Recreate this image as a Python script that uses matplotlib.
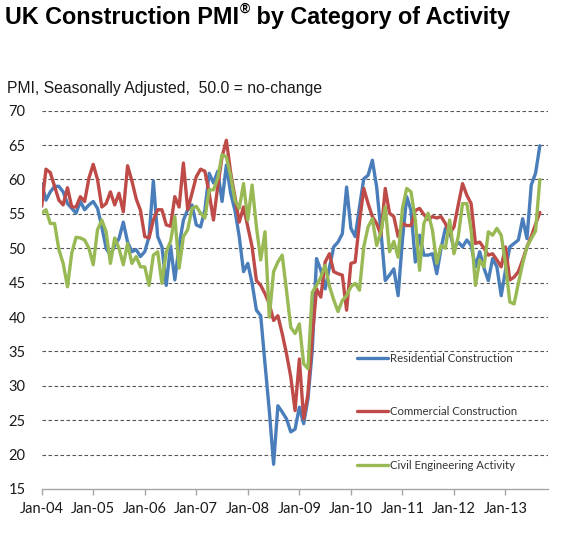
import matplotlib
matplotlib.use("Agg")
import matplotlib.pyplot as plt
import numpy as np

# ---------------- data (monthly, Jan-04 .. Sep-13) ----------------
tick_labels = ["Jan-04", "Jan-05", "Jan-06", "Jan-07", "Jan-08",
               "Jan-09", "Jan-10", "Jan-11", "Jan-12", "Jan-13"]

residential = [59.4, 57.0, 58.2, 59.0, 59.0, 58.2, 56.5, 55.8, 55.1, 56.8,
               55.6, 56.3, 56.8, 55.8, 53.1, 50.0, 49.0, 50.4, 51.4, 53.8,
               50.9, 49.5, 49.8, 48.8, 49.5, 51.7, 59.8, 51.7, 50.2, 44.6,
               50.4, 45.4, 50.4, 54.1, 55.6, 56.3, 53.4, 53.1, 55.6, 60.9,
               59.5, 61.2, 56.8, 62.1, 58.0, 55.5, 51.7, 46.6, 47.8, 44.9,
               41.0, 40.2, 33.2, 26.4, 18.6, 27.1, 26.2, 25.2, 23.3, 23.7,
               26.9, 24.5, 28.1, 35.1, 48.5, 46.8, 44.1, 47.2, 50.2, 50.9,
               52.1, 58.9, 52.9, 51.7, 56.0, 60.1, 60.6, 62.8, 58.9, 52.4,
               45.3, 46.1, 47.0, 43.1, 51.2, 57.5, 55.5, 48.0, 51.9, 49.0,
               49.0, 49.2, 46.3, 50.0, 52.9, 52.4, 50.0, 50.9, 50.2, 51.2,
               50.4, 47.3, 49.5, 47.1, 45.3, 48.5, 47.3, 43.1, 46.8, 50.2,
               50.7, 51.2, 54.3, 51.4, 59.2, 60.9, 64.9]

commercial = [56.1, 61.5, 61.0, 59.0, 57.0, 56.3, 58.8, 56.0, 56.0, 57.5,
              56.8, 60.2, 62.2, 60.0, 56.0, 56.5, 58.2, 56.3, 58.0, 55.3,
              62.0, 59.8, 57.2, 55.5, 51.7, 51.5, 54.1, 55.6, 55.6, 53.4,
              53.2, 57.5, 56.0, 62.4, 55.6, 58.0, 60.4, 61.5, 61.2, 58.0,
              54.1, 59.0, 63.3, 65.7, 61.0, 57.5, 53.8, 56.0, 53.1, 50.2,
              45.3, 44.6, 43.4, 41.9, 39.5, 40.2, 37.6, 34.7, 31.3, 26.4,
              33.9, 25.2, 28.8, 37.1, 44.1, 42.9, 48.0, 49.2, 46.6, 46.3,
              46.1, 41.0, 47.8, 48.0, 53.8, 58.7, 56.5, 54.6, 53.6, 51.9,
              58.7, 55.1, 54.6, 51.7, 53.6, 53.3, 53.3, 55.5, 55.8, 54.9,
              54.2, 54.6, 54.4, 54.6, 53.6, 52.1, 53.1, 56.3, 59.4, 57.7,
              56.5, 50.7, 50.9, 50.0, 49.0, 49.2, 48.3, 47.3, 50.2, 45.4,
              45.8, 46.6, 48.3, 50.2, 51.7, 53.5, 55.2]

civil = [55.1, 55.6, 53.6, 53.6, 49.8, 47.8, 44.4, 49.3, 51.6, 51.5,
         51.2, 50.0, 47.6, 52.7, 54.1, 52.4, 47.8, 51.5, 50.0, 47.6,
         50.7, 47.8, 48.8, 47.3, 47.3, 44.6, 49.0, 49.5, 44.9, 49.5,
         51.0, 54.6, 47.1, 51.7, 52.7, 55.8, 56.1, 55.1, 54.4, 58.5,
         58.5, 60.2, 63.6, 63.3, 60.5, 57.0, 55.8, 59.4, 54.1, 59.2,
         53.1, 48.3, 52.4, 40.0, 46.6, 48.0, 49.0, 43.9, 38.5, 37.6,
         39.0, 33.2, 32.5, 43.6, 44.6, 45.8, 47.5, 44.5, 42.5, 40.8,
         42.4, 43.1, 44.4, 44.9, 43.9, 50.2, 53.1, 54.3, 50.4, 52.4,
         56.0, 49.5, 51.0, 48.7, 55.8, 58.7, 58.2, 54.1, 46.8, 53.6,
         55.1, 52.6, 47.8, 50.4, 50.0, 54.1, 49.2, 51.7, 56.5, 56.5,
         52.6, 44.6, 48.3, 47.3, 52.4, 51.9, 52.9, 51.9, 47.8, 42.2,
         41.9, 44.9, 47.8, 50.2, 51.4, 52.5, 60.0]

series_names = ["Residential Construction", "Commercial Construction",
                "Civil Engineering Activity"]
series_colors = ["#4A7EBB", "#BE4B48", "#98B954"]

# ---------------- figure ----------------
W, H = 577, 537
fig = plt.figure(figsize=(W / 100, H / 100), dpi=100)
fig.patch.set_facecolor("white")


def rect(x0, y0, x1, y1):
    return [x0 / W, 1 - y1 / H, (x1 - x0) / W, (y1 - y0) / H]


ax = fig.add_axes(rect(41.7, 110.7, 548, 489))
x = np.arange(len(residential))
lines = []
for vals, name, col in zip([residential, commercial, civil], series_names, series_colors):
    ln, = ax.plot(x, vals, color=col, lw=2.4, label=name,
                  solid_joinstyle="round", solid_capstyle="round", zorder=3)
    lines.append(ln)

ax.set_xlim(0, 117.9)
ax.set_ylim(15, 70)

# gridlines
for v in range(20, 71, 5):
    ax.axhline(v, color="#555555", lw=0.8, ls=(0, (3.2, 2.2)), zorder=1)

for s in ["left", "right", "top"]:
    ax.spines[s].set_visible(False)
ax.spines["bottom"].set_color("#A6A6A6")
ax.spines["bottom"].set_linewidth(1.0)

tick_font = "Lato"
ax.set_yticks(range(15, 71, 5))
ax.set_yticklabels([str(v) for v in range(15, 71, 5)],
                   fontsize=10.5, fontfamily=tick_font, color="#1A1A1A")
ax.tick_params(axis="y", length=0, pad=11.5)

ax.set_xticks(np.arange(0, 109, 12))
ax.set_xticklabels(tick_labels, fontsize=10.5, fontfamily=tick_font, color="#1A1A1A")
ax.tick_params(axis="x", direction="out", length=4.5, width=1.0,
               color="#A6A6A6", pad=5)

# legend
leg = ax.legend(handles=lines, loc="upper left",
                bbox_to_anchor=(356.7 / W, 1 - 352.5 / H),
                bbox_transform=fig.transFigure, frameon=False,
                prop={"family": tick_font, "size": 8.2},
                labelcolor="#333333", labelspacing=3.75,
                handlelength=2.75, handletextpad=0.15,
                borderpad=0, borderaxespad=0)
for lh in leg.get_lines():
    lh.set_linewidth(2.4)

# ---------------- title ----------------
renderer = fig.canvas.get_renderer()
tfont = dict(family="Liberation Sans", weight="bold", size=16.8, color="black")
ty = 1 - 24 / H
t1 = fig.text(4.8 / W, ty, "UK Construction PMI", va="baseline", ha="left", **tfont)
bb = t1.get_window_extent(renderer)
t2 = fig.text((bb.x1 + 0.5) / W, 1 - 12.5 / H, "\u00AE", va="baseline", ha="left",
              family="Liberation Sans", weight="bold", size=10, color="black")
bb2 = t2.get_window_extent(renderer)
fig.text((bb2.x1) / W, ty, " by Category of Activity", va="baseline", ha="left", **tfont)

fig.text(7.4 / W, 1 - 92.5 / H, "PMI, Seasonally Adjusted,  50.0 = no-change",
         va="baseline", ha="left", family="Liberation Sans", size=11.3,
         color="#1A1A1A")

fig.savefig("out.png", dpi=100, facecolor="white")
